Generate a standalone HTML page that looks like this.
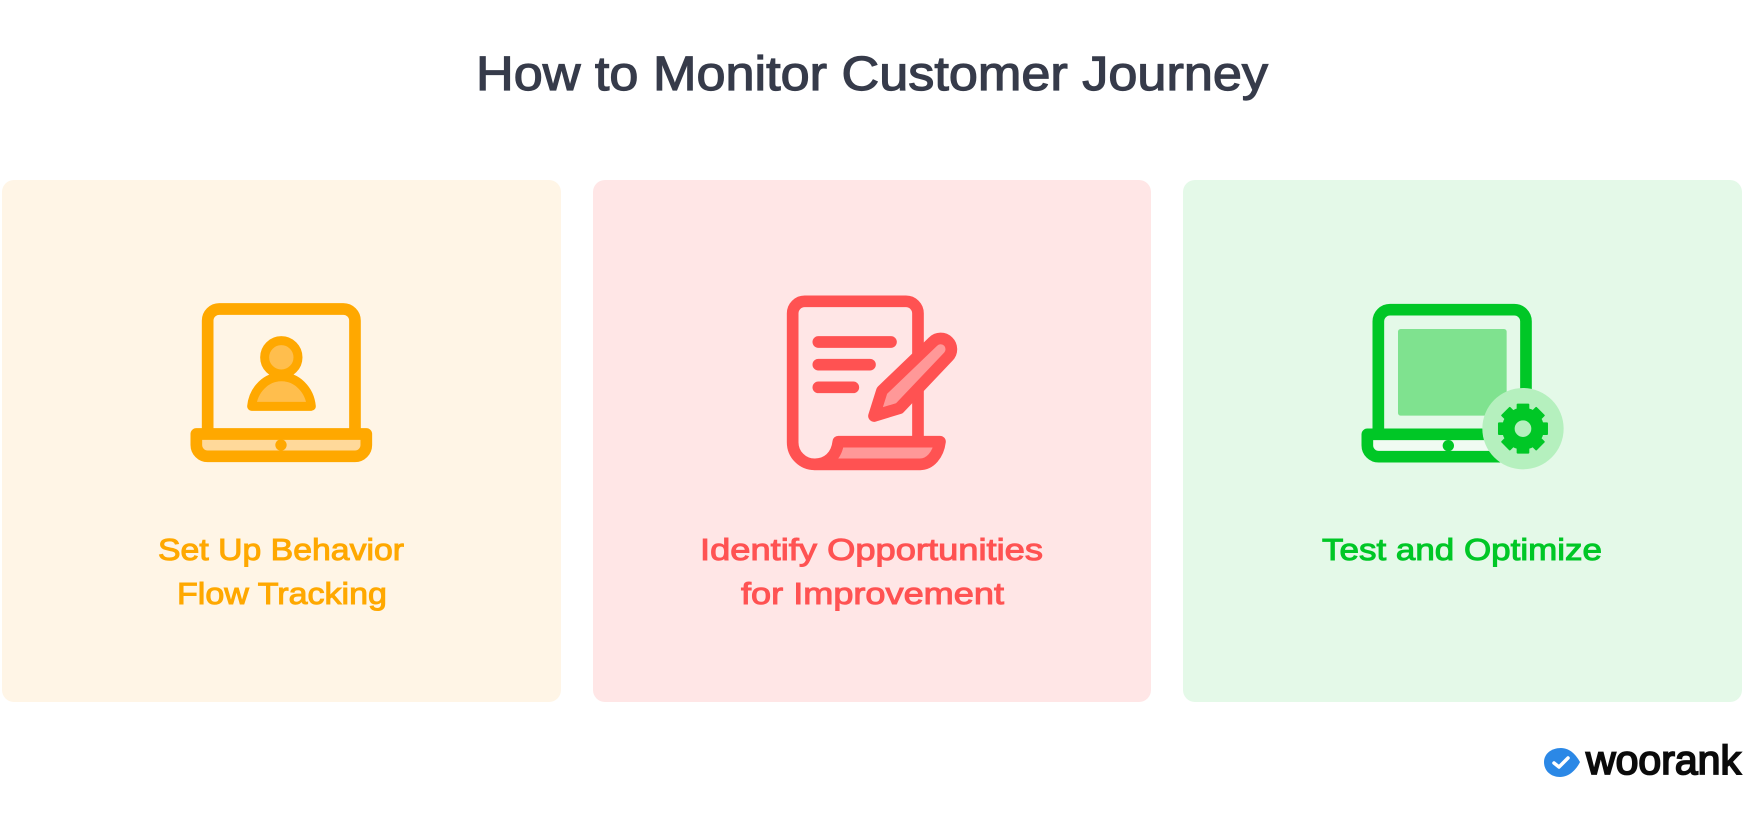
<!DOCTYPE html>
<html lang="en"><head><meta charset="utf-8"><title>How to Monitor Customer Journey</title>
<style>html,body{margin:0;padding:0;background:#fff}svg{display:block}text{font-family:"Liberation Sans",sans-serif;text-anchor:start}</style></head>
<body>
<svg xmlns="http://www.w3.org/2000/svg" width="1744" height="816" viewBox="0 0 1744 816">
<rect width="1744" height="816" fill="#fff"/>
<text x="476" y="90" font-size="48" fill="#363b4a" stroke="#363b4a" stroke-width="1.2" textLength="792" lengthAdjust="spacingAndGlyphs">How to Monitor Customer Journey</text>

<rect x="2" y="180" width="559" height="522" rx="12" fill="#fff5e6"/>
<rect x="593" y="180" width="558" height="522" rx="12" fill="#ffe6e6"/>
<rect x="1183" y="180" width="559" height="522" rx="12" fill="#e4f9e8"/>

<!-- Laptop with person -->
<g transform="translate(170 280) scale(.3333)" stroke="#ffa800" stroke-width="35" stroke-linejoin="round" stroke-linecap="round" fill="none">
<path d="M113 455V122a35 35 0 0 1 35-35H520a35 35 0 0 1 35 35V455"/>
<path d="M79 462H589V495a34 34 0 0 1-34 34H113a34 34 0 0 1-34-34Z" fill="#ffd99a"/>
<circle cx="333" cy="495" r="17" fill="#ffa800" stroke="none"/>
<path d="M245 379A90 99 0 0 1 424 379Z" fill="#ffbe4d" stroke-width="27"/>
<circle cx="334" cy="232" r="50" fill="#ffbe4d" stroke-width="27"/>
</g>

<!-- Document with pen -->
<g transform="translate(770 280) scale(.3333)" stroke="#ff5252" stroke-width="35" stroke-linejoin="round" stroke-linecap="round" fill="none">
<path d="M444 480V100a36 36 0 0 0-36-36H104a36 36 0 0 0-36 36V487a66 66 0 0 0 66 66H450"/>
<path d="M205 485H510C505 525 480 553 450 553H135C170 553 200 530 205 485Z" fill="#ff9898"/>
<path d="M145 186H363M145 254H300M145 322H250"/>
<path d="M312 408L336 332L489 185A32 32 0 0 1 535 230L388 385Z" fill="#ff9898"/>
</g>

<!-- Laptop with gear -->
<g transform="translate(1350 285) scale(.3333)">
<g stroke="#00c726" stroke-width="35" stroke-linejoin="round" stroke-linecap="round" fill="none">
<path d="M85 445V109a35 35 0 0 1 35-35H493a35 35 0 0 1 35 35V445"/>
<path d="M52 448H480V515H86a34 34 0 0 1-34-34Z" fill="#f0fbf2"/>
</g>
<rect x="144" y="132" width="326" height="260" rx="8" fill="#7fe28f"/>
<circle cx="295" cy="482" r="17" fill="#00c726"/>
<circle cx="519" cy="431" r="122" fill="#b5f0be"/>
<g fill="#00c726">
<rect x="500" y="356" width="38" height="150" rx="3"/>
<rect x="500" y="356" width="38" height="150" rx="3" transform="rotate(45 519 431)"/>
<rect x="500" y="356" width="38" height="150" rx="3" transform="rotate(90 519 431)"/>
<rect x="500" y="356" width="38" height="150" rx="3" transform="rotate(135 519 431)"/>
</g>
<circle cx="519" cy="431" r="44" fill="#b5f0be" stroke="#00c726" stroke-width="38"/>
</g>

<g font-size="31" stroke-width="1">
<text x="158" y="560" fill="#ffa800" stroke="#ffa800" textLength="246" lengthAdjust="spacingAndGlyphs">Set Up Behavior</text>
<text x="177" y="604" fill="#ffa800" stroke="#ffa800" textLength="210" lengthAdjust="spacingAndGlyphs">Flow Tracking</text>
<text x="700" y="560" fill="#ff5252" stroke="#ff5252" textLength="343" lengthAdjust="spacingAndGlyphs">Identify Opportunities</text>
<text x="741" y="604" fill="#ff5252" stroke="#ff5252" textLength="263" lengthAdjust="spacingAndGlyphs">for Improvement</text>
<text x="1322" y="560" fill="#00c726" stroke="#00c726" textLength="280" lengthAdjust="spacingAndGlyphs">Test and Optimize</text>
</g>

<!-- Logo -->
<path d="M1561 748C1570 748 1576 755 1580 762C1576 770 1569 777 1560 777C1551 777 1544 771 1544 762C1544 754 1551 748 1561 748Z" fill="#2b88e6"/>
<path d="M1554 763L1559 767L1568 758" fill="none" stroke="#fff" stroke-width="3.5" stroke-linecap="round" stroke-linejoin="round"/>
<text x="1586" y="774" font-size="41" fill="#0b0b0b" stroke="#0b0b0b" stroke-width="1.8" textLength="155" lengthAdjust="spacingAndGlyphs">woorank</text>
</svg>
</body></html>
